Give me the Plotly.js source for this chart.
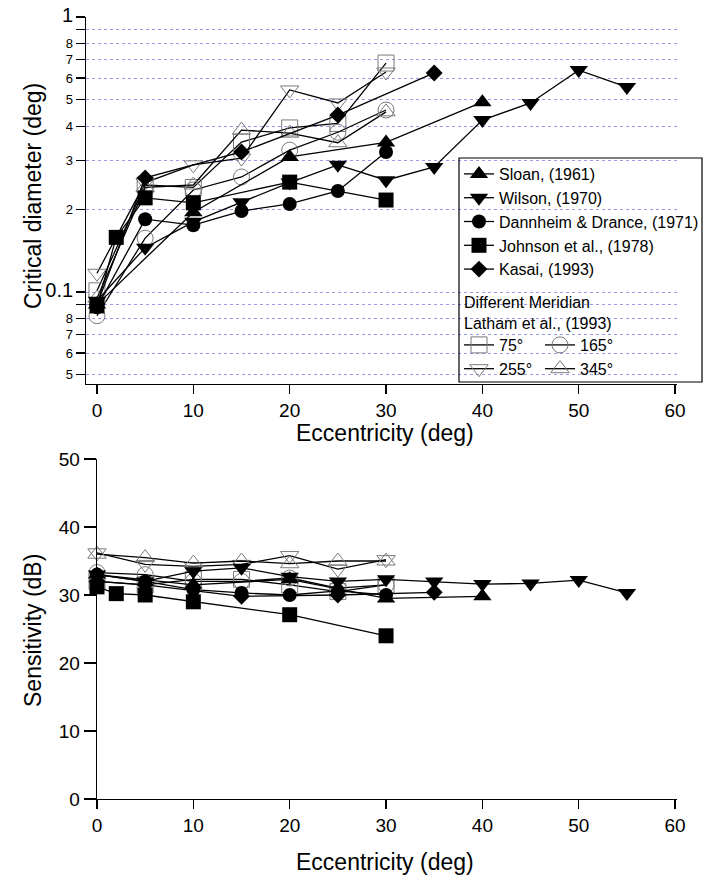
<!DOCTYPE html>
<html>
<head>
<meta charset="utf-8">
<script src="https://cdn.plot.ly/plotly-3.0.1.min.js"></script>
<style>html,body{margin:0;padding:0;background:#fff;}#chart{width:704px;height:882px;}</style>
</head>
<body>
<div id="chart"></div>
<script>
// ---------- Data ----------
// Top panel: critical diameter (deg) vs eccentricity (deg)
const sloanX = [0, 10, 20, 30, 40];
const sloanDiam = [0.09, 0.195, 0.31, 0.35, 0.49];
const wilsonX = [0, 5, 10, 15, 20, 25, 30, 35, 40, 45, 50, 55];
const wilsonDiam = [0.093, 0.145, 0.18, 0.212, 0.25, 0.29, 0.255, 0.285, 0.422, 0.487, 0.641, 0.556];
const dannX = [0, 5, 10, 15, 20, 25, 30];
const dannDiam = [0.088, 0.184, 0.175, 0.197, 0.209, 0.233, 0.323];
const johnX = [0, 2, 5, 10, 20, 30];
const johnDiam = [0.089, 0.158, 0.22, 0.211, 0.251, 0.216];
const kasaiX = [0, 5, 15, 25, 35];
const kasaiDiam = [0.09, 0.26, 0.323, 0.44, 0.626];
const lathamX = [0, 5, 10, 15, 20, 25, 30];
const lat75Diam = [0.101, 0.245, 0.24, 0.351, 0.395, 0.41, 0.68];
const lat165Diam = [0.082, 0.157, 0.235, 0.262, 0.328, 0.381, 0.459];
const lat255Diam = [0.117, 0.25, 0.29, 0.307, 0.543, 0.487, 0.631];
const lat345Diam = [0.095, 0.24, 0.245, 0.388, 0.378, 0.349, 0.452];

// Bottom panel: sensitivity (dB) vs eccentricity (deg)
const sloanSens = [33.0, 31.5, 32.3, 29.5, 29.8];
const wilsonSens = [33.0, 32.0, 33.5, 34.0, 32.7, 32.0, 32.3, 32.0, 31.6, 31.7, 32.2, 30.3];
const dannSens = [33.0, 32.0, 30.8, 30.3, 30.0, 30.6, 30.0];
const johnSens = [31.2, 30.2, 30.0, 29.0, 27.1, 24.0];
const kasaiSens = [32.0, 31.5, 29.8, 30.0, 30.4];
const lat75Sens = [32.0, 31.5, 32.3, 32.3, 31.5, 30.5, 31.5];
const lat165Sens = [33.3, 33.0, 32.0, 32.0, 32.5, 31.0, 31.5];
const lat255Sens = [36.2, 34.5, 34.2, 34.5, 35.8, 33.8, 35.2];
const lat345Sens = [36.0, 35.5, 34.7, 35.0, 34.6, 35.0, 35.0];

// Names
const seriesNames = ['Sloan, (1961)', 'Wilson, (1970)', 'Dannheim & Drance, (1971)', 'Johnson et al., (1978)', 'Kasai, (1993)'];
const lathamNames = ['75°', '165°', '255°', '345°'];

// Tick labels
const topTickVals = [0.05, 0.06, 0.07, 0.08, 0.09, 0.1, 0.2, 0.3, 0.4, 0.5, 0.6, 0.7, 0.8, 0.9, 1];
const topTickText = ['5', '6', '7', '8', '', '0.1', '2', '3', '4', '5', '6', '7', '8', '', '1'];
const xTickVals = [0, 10, 20, 30, 40, 50, 60];
const sensTickVals = [0, 10, 20, 30, 40, 50];

// ---------- Styles ----------
const FONT = 'Liberation Sans, Arial, Helvetica, sans-serif';
const W = 704, H = 882;
const px = v => v / W;
const py = v => 1 - v / H;

const filledStyles = [
  {symbol: 'triangle-up', size: 16},
  {symbol: 'triangle-down', size: 16},
  {symbol: 'circle', size: 14},
  {symbol: 'square', size: 15},
  {symbol: 'diamond', size: 13}
];
const openStyles = [
  {symbol: 'square-open', size: 16},
  {symbol: 'circle-open', size: 16},
  {symbol: 'triangle-down-open', size: 16},
  {symbol: 'triangle-up-open', size: 16}
];

const filledX = [sloanX, wilsonX, dannX, johnX, kasaiX];
const filledDiam = [sloanDiam, wilsonDiam, dannDiam, johnDiam, kasaiDiam];
const filledSens = [sloanSens, wilsonSens, dannSens, johnSens, kasaiSens];
const openDiam = [lat75Diam, lat165Diam, lat255Diam, lat345Diam];
const openSens = [lat75Sens, lat165Sens, lat255Sens, lat345Sens];
const openLegend = ['legend2', 'legend3', 'legend2', 'legend3'];

const traces = [];
// open (Latham) traces first so filled markers sit on top
for (let i = 0; i < 4; i++) {
  const m = {symbol: openStyles[i].symbol, size: openStyles[i].size, color: '#7a7a7a', line: {color: '#7a7a7a', width: 1}};
  traces.push({x: lathamX, y: openDiam[i], xaxis: 'x', yaxis: 'y', mode: 'lines+markers', name: lathamNames[i],
    legend: openLegend[i], line: {color: '#000', width: 1.3}, marker: m, showlegend: true});
  traces.push({x: lathamX, y: openSens[i], xaxis: 'x2', yaxis: 'y2', mode: 'lines+markers', name: lathamNames[i],
    line: {color: '#000', width: 1.3}, marker: m, showlegend: false, cliponaxis: false});
}
for (let i = 0; i < 5; i++) {
  const m = {symbol: filledStyles[i].symbol, size: filledStyles[i].size, color: '#000', line: {color: '#000', width: 0}};
  traces.push({x: filledX[i], y: filledDiam[i], xaxis: 'x', yaxis: 'y', mode: 'lines+markers', name: seriesNames[i],
    legend: 'legend', line: {color: '#000', width: 1.3}, marker: m, showlegend: true});
  traces.push({x: filledX[i], y: filledSens[i], xaxis: 'x2', yaxis: 'y2', mode: 'lines+markers', name: seriesNames[i],
    line: {color: '#000', width: 1.3}, marker: m, showlegend: false, cliponaxis: false});
}

const bigTick = t => (t === '1' || t === '0.1') ? '<span style="font-size:20px">' + t + '</span>' : t;

const axisBase = {
  showline: true, linecolor: '#000', linewidth: 1.3, ticks: 'outside', tickcolor: '#000', tickwidth: 1.2,
  zeroline: false, showgrid: false, tickfont: {family: FONT, size: 19, color: '#000'}
};

const legendBase = {
  xanchor: 'left', yanchor: 'top', bgcolor: 'rgba(0,0,0,0)', borderwidth: 0,
  font: {family: FONT, size: 16, color: '#000'}, tracegroupgap: 0, itemclick: false
};

const layout = {
  width: W, height: H,
  margin: {l: 0, r: 0, t: 0, b: 0},
  paper_bgcolor: '#fff', plot_bgcolor: 'rgba(0,0,0,0)',
  font: {family: FONT, color: '#000'},
  xaxis: Object.assign({}, axisBase, {
    domain: [px(86), px(677)], range: [-1.14, 60.2], tickvals: xTickVals, ticklen: 9, anchor: 'y'
  }),
  yaxis: Object.assign({}, axisBase, {
    domain: [py(384), py(17)], type: 'log', range: [Math.log10(0.0463), 0],
    tickvals: topTickVals, ticktext: topTickText.map(bigTick), ticklen: 9,
    tickfont: {family: FONT, size: 13, color: '#000'},
    showgrid: true, gridcolor: '#9a9af0', griddash: 'dot', gridwidth: 1, anchor: 'x'
  }),
  xaxis2: Object.assign({}, axisBase, {
    domain: [px(97), px(677)], range: [0, 60.2], tickvals: xTickVals, ticklen: 9, anchor: 'y2'
  }),
  yaxis2: Object.assign({}, axisBase, {
    domain: [py(799), py(459)], range: [0, 50], tickvals: sensTickVals, ticklen: 12, anchor: 'x2'
  }),
  showlegend: true,
  legend: Object.assign({}, legendBase, {x: px(459), y: py(157), traceorder: 'normal'}),
  legend2: Object.assign({}, legendBase, {x: px(459), y: py(328), traceorder: 'normal'}),
  legend3: Object.assign({}, legendBase, {x: px(540), y: py(328), traceorder: 'normal'}),
  shapes: [
    {type: 'rect', xref: 'paper', yref: 'paper', x0: px(459), x1: px(702), y0: py(382), y1: py(158),
     line: {color: '#000', width: 1.2}, fillcolor: 'rgba(255,255,255,0)', layer: 'above'}
  ],
  annotations: [
    {text: 'Eccentricity (deg)', xref: 'paper', yref: 'paper', x: px(385), y: py(433), xanchor: 'center', yanchor: 'middle',
     showarrow: false, font: {family: FONT, size: 23, color: '#000'}},
    {text: 'Eccentricity (deg)', xref: 'paper', yref: 'paper', x: px(385), y: py(862), xanchor: 'center', yanchor: 'middle',
     showarrow: false, font: {family: FONT, size: 23, color: '#000'}},
    {text: 'Critical diameter (deg)', xref: 'paper', yref: 'paper', x: px(33), y: py(196), xanchor: 'center', yanchor: 'middle',
     textangle: -90, showarrow: false, font: {family: FONT, size: 23, color: '#000'}},
    {text: 'Sensitivity (dB)', xref: 'paper', yref: 'paper', x: px(33), y: py(631), xanchor: 'center', yanchor: 'middle',
     textangle: -90, showarrow: false, font: {family: FONT, size: 23, color: '#000'}},
    {text: 'Different Meridian<br>Latham et al., (1993)', xref: 'paper', yref: 'paper', x: px(462), y: py(313),
     xanchor: 'left', yanchor: 'middle', align: 'left', showarrow: false, font: {family: FONT, size: 16, color: '#000'}}
  ]
};

Plotly.newPlot('chart', traces, layout, {displayModeBar: false, staticPlot: true});
</script>
</body>
</html>
